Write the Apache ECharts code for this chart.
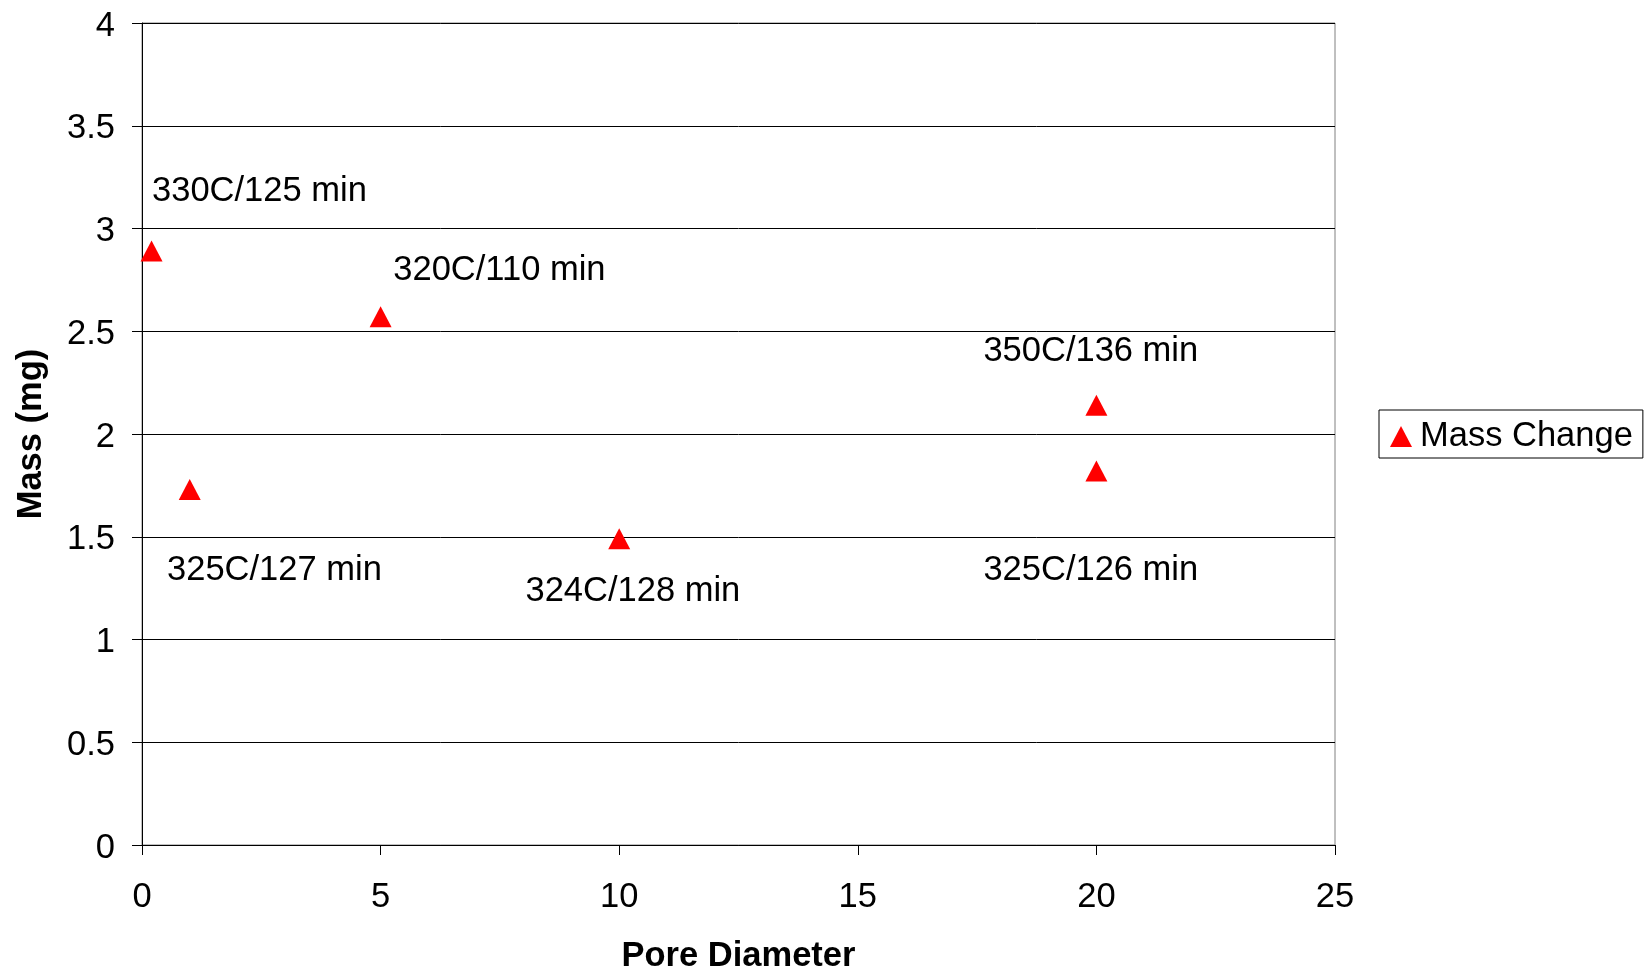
<!DOCTYPE html>
<html>
<head>
<meta charset="utf-8">
<script src="https://cdn.jsdelivr.net/npm/echarts@6/dist/echarts.min.js"></script>
<style>
html,body{margin:0;padding:0;background:#fff;}
#chart{width:1644px;height:971px;}
</style>
</head>
<body>
<div id="chart"></div>
<script>
// ---- data ----
const poreDiameter = [0.2, 5, 1, 10, 20, 20];
const massChange   = [2.89, 2.57, 1.73, 1.49, 2.14, 1.82];
const pointLabels  = ['330C/125 min', '320C/110 min', '325C/127 min', '324C/128 min', '350C/136 min', '325C/126 min'];
const seriesName = 'Mass Change';
const xTitle = 'Pore Diameter';
const yTitle = 'Mass (mg)';

// label offsets (styling only: where each annotation sits relative to its marker)
const labelOffsets = [[0.5, -59.6], [12.7, -46.4], [-22.7, 81], [-93.7, 52.4], [-113, -53.7], [-113, 99]];

const FONT = '"Liberation Sans", Arial, sans-serif';
const FS = 34.5;

const data = poreDiameter.map((x, i) => ({
  value: [x, massChange[i]],
  label: {
    show: true,
    formatter: pointLabels[i],
    position: 'inside',
    align: 'left',
    verticalAlign: 'middle',
    offset: labelOffsets[i],
    color: '#000',
    fontSize: FS,
    fontFamily: FONT
  }
}));

const chart = echarts.init(document.getElementById('chart'), null, {renderer: 'canvas'});
chart.setOption({
  animation: false,
  backgroundColor: '#fff',
  grid: {
    left: 142, top: 23, width: 1193, height: 822,
    show: true, borderColor: '#808080', borderWidth: 1,
    outerBoundsMode: 'none', containLabel: false
  },
  legend: {
    show: true,
    left: 1379, top: 410,
    orient: 'vertical',
    data: [seriesName],
    icon: 'triangle',
    itemWidth: 22, itemHeight: 21,
    borderColor: '#000', borderWidth: 1,
    padding: [9, 10, 4, 11],
    textStyle: {color: '#000', fontSize: FS, fontFamily: FONT, padding: [0, 0, 0, 3]}
  },
  xAxis: {
    type: 'value', min: 0, max: 25, interval: 5,
    name: xTitle, nameLocation: 'middle', nameGap: 94,
    nameTextStyle: {color: '#000', fontSize: FS, fontWeight: 'bold', fontFamily: FONT},
    axisLine: {show: true, onZero: false, lineStyle: {color: '#000', width: 1}},
    axisTick: {show: true, inside: false, length: 10, lineStyle: {color: '#000'}},
    axisLabel: {color: '#000', fontSize: FS, fontFamily: FONT, margin: 35},
    splitLine: {show: false}
  },
  yAxis: {
    type: 'value', min: 0, max: 4, interval: 0.5,
    name: yTitle, nameLocation: 'middle', nameGap: 93,
    nameTextStyle: {color: '#000', fontSize: FS, fontWeight: 'bold', fontFamily: FONT},
    axisLine: {show: true, onZero: false, lineStyle: {color: '#000', width: 1}},
    axisTick: {show: true, inside: false, length: 10, lineStyle: {color: '#000'}},
    axisLabel: {color: '#000', fontSize: FS, fontFamily: FONT, margin: 27, verticalAlign: 'top', lineHeight: 6},
    splitLine: {show: true, lineStyle: {color: '#000', width: 1}}
  },
  series: [{
    name: seriesName,
    type: 'scatter',
    symbol: 'triangle',
    symbolSize: [22, 21],
    itemStyle: {color: '#ff0000', opacity: 1},
    emphasis: {disabled: true},
    data: data
  }]
});
</script>
</body>
</html>
